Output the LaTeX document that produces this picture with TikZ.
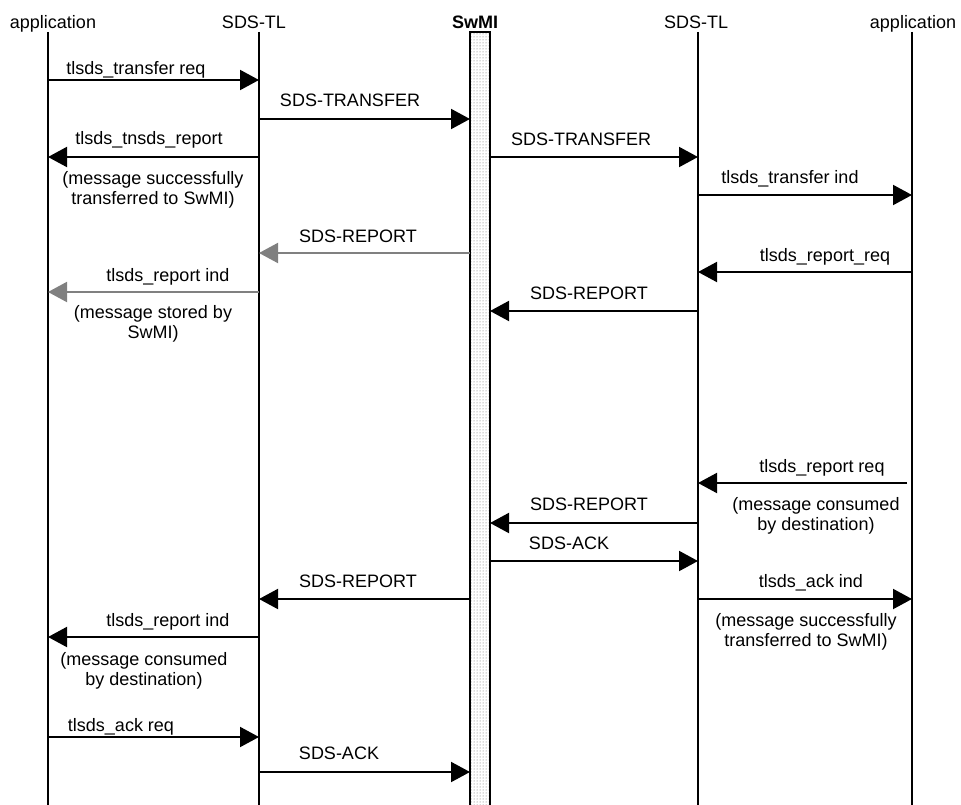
\documentclass[tikz,border=0pt]{standalone}
\usepackage{fontspec}
\setmainfont{Liberation Sans}
\usetikzlibrary{arrows.meta,patterns}
\definecolor{rpt}{HTML}{808080}

\begin{document}
\begin{tikzpicture}[x=1pt,y=-1pt,
  font=\fontsize{18}{20}\selectfont,
  life/.style={line width=2pt},
  msg/.style={line width=2pt,-{Triangle[length=19pt,width=20pt]}},
  lbl/.style={anchor=base,inner sep=0pt},
  note/.style={anchor=north,inner sep=0pt,align=center}]
\useasboundingbox (0,0) rectangle (961,805);

% lifelines
\coordinate (appL) at (48,32);
\coordinate (tlL) at (259,32);
\coordinate (swL) at (470,32);
\coordinate (swR) at (490,32);
\coordinate (tlR) at (698,32);
\coordinate (appR) at (912,32);
\foreach \p in {appL,tlL,tlR,appR}
  \draw[life] (\p) -- (\p |- 0,805);

% SwMI column, dotted
\fill[white] (swL) rectangle (swR |- 0,805);
\fill[pattern=dots,pattern color=black!60] (swL) rectangle (swR |- 0,805);
\draw[life] (swL |- 0,805) -- (swL) -- (swR) -- (swR |- 0,805);

% headers
\node[lbl] (hAppL) at (53,29) {application};
\node[lbl] (hTlL) at (254,29) {SDS-TL};
\node[lbl,font=\fontsize{18}{20}\selectfont\bfseries] (hSw) at (475,29) {SwMI};
\node[lbl] (hTlR) at (696,29) {SDS-TL};
\node[lbl] (hAppR) at (913,29) {application};

% messages
\foreach \y/\a/\b/\c in {80/appL/tlL/black, 119/tlL/swL/black, 157/tlL/appL/black,
    157/swR/tlR/black, 195/tlR/appR/black, 253/swL/tlL/rpt, 272/appR/tlR/black,
    292/tlL/appL/rpt, 311/tlR/swR/black, 523/tlR/swR/black, 561/swR/tlR/black,
    599/tlR/appR/black, 599/swL/tlL/black, 637/tlL/appL/black, 737/appL/tlL/black,
    772/tlL/swL/black}
  \draw[msg,\c] (\a |- 0,\y) -- (\b |- 0,\y);
\coordinate (rq) at (907,483);
\draw[msg] (rq) -- (tlR |- rq);

% message labels
\foreach \x/\y/\t [count=\i] in {136/75/tlsds\_transfer req, 350/107/SDS-TRANSFER,
    149/145/tlsds\_tnsds\_report, 581/146/SDS-TRANSFER, 790/184/tlsds\_transfer ind,
    358/242/SDS-REPORT, 825/261/tlsds\_report\_req, 168/281/tlsds\_report ind,
    589/299/SDS-REPORT, 822/472/tlsds\_report req, 589/510/SDS-REPORT,
    569/549/SDS-ACK, 811/587/tlsds\_ack ind, 358/587/SDS-REPORT,
    168/626/tlsds\_report ind, 121/731/tlsds\_ack req, 339/759/SDS-ACK}
  \node[lbl] (m\i) at (\x,\y) {\t};

% notes
\node[note] (n1) at (153,171) {(message successfully\\transferred to SwMI)};
\node[note] (n2) at (153,305) {(message stored by\\SwMI)};
\node[note] (n3) at (816,497) {(message consumed\\by destination)};
\node[note] (n4) at (806,613) {(message successfully\\transferred to SwMI)};
\node[note] (n5) at (144,652) {(message consumed\\by destination)};
\end{tikzpicture}
\end{document}
